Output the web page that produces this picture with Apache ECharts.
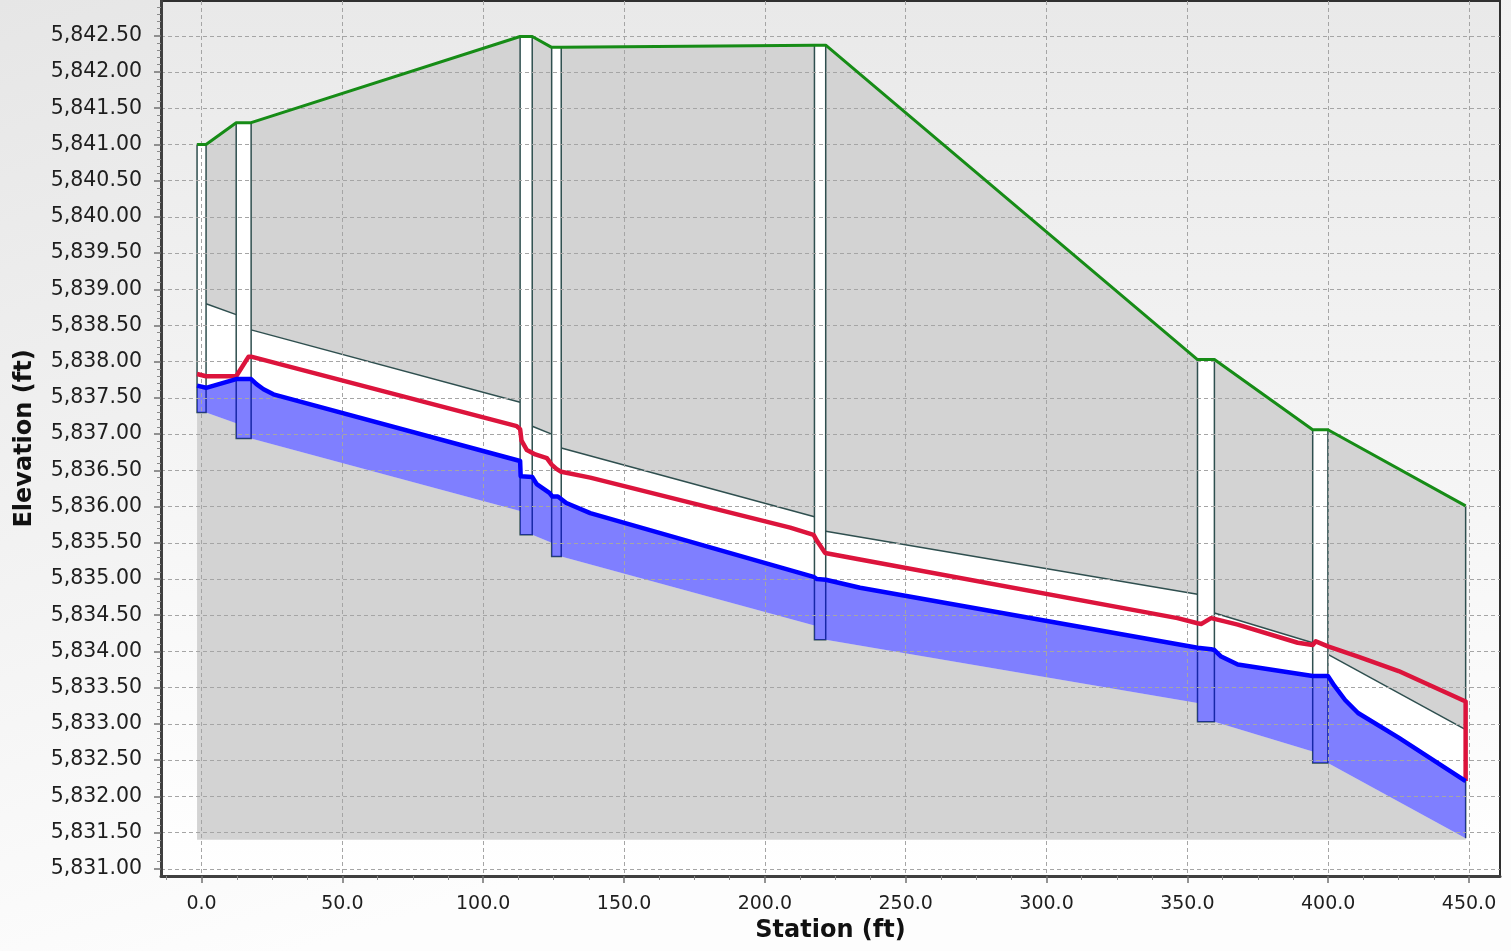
<!DOCTYPE html>
<html><head><meta charset="utf-8">
<script src="https://cdn.jsdelivr.net/npm/echarts@6/dist/echarts.min.js"></script>
<style>html,body{margin:0;padding:0;overflow:hidden;background:#fff}#c{width:1511px;height:951px}</style>
</head><body><div id="c"></div>
<script>
// ---- Structures (manholes): stations of walls (ft) and rim elevations (ft)
const mhLeft  = [-1.6, 12.3, 113.1, 124.3, 217.6, 353.6, 394.5];
const mhRight = [1.6, 17.6, 117.4, 127.7, 221.6, 359.6, 399.9];
const mhRim   = [5841.00, 5841.30, 5842.49, 5842.34, 5842.37, 5838.03, 5837.06];
const outletStation = 448.8;
const outletRim = 5836.01;
// ---- Pipes: one per manhole, running to the next structure
const pipeInvUp = [5837.30, 5836.94, 5835.61, 5835.31, 5834.16, 5833.03, 5832.46];
const pipeInvDn = [5837.15, 5835.94, 5835.50, 5834.36, 5833.29, 5832.62, 5831.42];
const pipeRise = 1.5;
const groundBase = 5831.4;
// ---- Hydraulic grade line (blue)
const hglStation = [-1.6, 1.6, 12.3, 17.6, 19.5, 22.0, 25.5, 113.1, 113.3, 117.4, 119.0, 123.5, 124.5, 126.5, 129.5, 138.0, 217.3, 218.5, 221.6, 233.8, 353.6, 358.4, 359.6, 362.0, 367.9, 394.5, 399.9, 402.3, 406.0, 410.6, 425.0, 448.8];
const hglElev    = [5837.67, 5837.64, 5837.76, 5837.76, 5837.69, 5837.62, 5837.55, 5836.63, 5836.42, 5836.41, 5836.31, 5836.19, 5836.14, 5836.14, 5836.05, 5835.91, 5835.03, 5835.00, 5834.99, 5834.88, 5834.05, 5834.03, 5834.02, 5833.93, 5833.82, 5833.66, 5833.66, 5833.52, 5833.33, 5833.15, 5832.81, 5832.21];
// ---- Energy grade line (red)
const eglStation = [-1.6, 1.6, 12.3, 16.7, 17.6, 111.9, 113.1, 113.6, 115.5, 118.5, 122.6, 124.3, 126.0, 127.7, 138.0, 209.0, 217.3, 218.6, 221.4, 233.8, 346.5, 353.6, 355.0, 358.4, 359.6, 367.9, 389.2, 394.5, 395.6, 399.9, 410.6, 425.0, 448.8, 448.8];
const eglElev    = [5837.83, 5837.80, 5837.80, 5838.07, 5838.07, 5837.11, 5837.07, 5836.91, 5836.78, 5836.72, 5836.67, 5836.58, 5836.52, 5836.48, 5836.40, 5835.71, 5835.61, 5835.52, 5835.36, 5835.27, 5834.46, 5834.39, 5834.38, 5834.46, 5834.45, 5834.37, 5834.12, 5834.09, 5834.14, 5834.07, 5833.93, 5833.73, 5833.31, 5832.21];
// ---- Axis ticks
const xTicks = [0, 50, 100, 150, 200, 250, 300, 350, 400, 450];
const yTicks = [5831.0, 5831.5, 5832.0, 5832.5, 5833.0, 5833.5, 5834.0, 5834.5, 5835.0, 5835.5, 5836.0, 5836.5, 5837.0, 5837.5, 5838.0, 5838.5, 5839.0, 5839.5, 5840.0, 5840.5, 5841.0, 5841.5, 5842.0, 5842.5];

// ---- derived geometry (data units only)
const pipeStart = mhRight.slice();
const pipeEnd = mhLeft.slice(1).concat([outletStation]);
const groundPts = [];
mhLeft.forEach((l, i) => { groundPts.push([l, mhRim[i]], [mhRight[i], mhRim[i]]); });
groundPts.push([outletStation, outletRim]);
const groundPoly = [[mhLeft[0], groundBase]].concat(groundPts, [[outletStation, groundBase]]);
const invertProfile = [];
mhLeft.forEach((l, i) => { invertProfile.push([l, pipeInvUp[i]], [mhRight[i], pipeInvUp[i]], [pipeEnd[i], pipeInvDn[i]]); });
const hglPts = hglStation.map((s, i) => [s, hglElev[i]]);
const eglPts = eglStation.map((s, i) => [s, eglElev[i]]);
const waterPoly = hglPts.concat(invertProfile.slice().reverse());
const pipeRows = pipeStart.map((s, i) => [s, pipeEnd[i], pipeInvUp[i], pipeInvDn[i]]);
const mhRows = mhLeft.map((l, i) => [l, mhRight[i], pipeInvUp[i], mhRim[i]]);

const fmtY = v => { const s = Number(v).toFixed(2); const p = s.split('.'); return p[0].replace(/\B(?=(\d{3})+(?!\d))/g, ',') + '.' + p[1]; };
const FONT = "'DejaVu Sans', Verdana, sans-serif";
const OUT = '#2f4f4f';

function polySeries(points, style, z) {
  return { type: 'custom', z: z, silent: true, clip: true, data: [points[0]],
    renderItem: (params, api) => ({ type: 'polygon', shape: { points: points.map(p => api.coord(p)) }, style: style }) };
}

const chart = echarts.init(document.getElementById('c'), null, { renderer: 'canvas' });
chart.setOption({
  animation: false,
  backgroundColor: new echarts.graphic.LinearGradient(0, 0, 0.2, 1, [{ offset: 0, color: '#e6e6e6' }, { offset: 1, color: '#fdfdfd' }]),
  grid: { left: 161, right: 11, top: 1, bottom: 75, show: true, outerBoundsMode: 'none',
    backgroundColor: new echarts.graphic.LinearGradient(0, 0, 0, 1, [{ offset: 0, color: '#e9e9e9' }, { offset: 1, color: '#ffffff' }]),
    borderColor: '#303030', borderWidth: 2 },
  xAxis: {
    type: 'value', min: -14.4, max: 461, minInterval: 50, maxInterval: 50, splitNumber: 10, z: 5,
    axisLine: { show: true, onZero: false, lineStyle: { color: '#404040', width: 3 } },
    axisTick: { show: true, length: 7, customValues: xTicks, lineStyle: { color: '#707070', width: 1.5 } },
    minorTick: { show: true, splitNumber: 4, length: 4, lineStyle: { color: '#8a8a8a', width: 1 } },
    axisLabel: { customValues: xTicks, showMinLabel: true, showMaxLabel: true, formatter: v => Number(v).toFixed(1),
      fontFamily: FONT, fontSize: 19, color: '#1e1e1e', margin: 19 },
    splitLine: { show: true, lineStyle: { color: '#a5a5a5', type: [4, 3], width: 1 } },
    name: 'Station (ft)', nameLocation: 'middle', nameGap: 43,
    nameTextStyle: { fontFamily: FONT, fontWeight: 'bold', fontSize: 24, color: '#111' }
  },
  yAxis: {
    type: 'value', min: 5830.9, max: 5842.98, minInterval: 0.5, maxInterval: 0.5, splitNumber: 24, z: 5,
    axisLine: { show: true, onZero: false, lineStyle: { color: '#404040', width: 3 } },
    axisTick: { show: true, length: 7, customValues: yTicks, lineStyle: { color: '#707070', width: 1.5 } },
    minorTick: { show: true, splitNumber: 5, length: 4, lineStyle: { color: '#8a8a8a', width: 1 } },
    axisLabel: { customValues: yTicks, showMinLabel: true, showMaxLabel: true, formatter: fmtY,
      fontFamily: FONT, fontSize: 20.5, color: '#1e1e1e', margin: 19 },
    splitLine: { show: true, lineStyle: { color: '#a5a5a5', type: [4, 3], width: 1 } },
    name: 'Elevation (ft)', nameLocation: 'middle', nameGap: 124,
    nameTextStyle: { fontFamily: FONT, fontWeight: 'bold', fontSize: 24, color: '#111' }
  },
  series: [
    polySeries(groundPoly, { fill: '#d3d3d3' }, 1),
    { type: 'custom', z: 2, silent: true, clip: true, data: pipeRows, encode: { x: [0, 1], y: [2, 3] },
      renderItem: (params, api) => {
        const s = api.value(0), e = api.value(1), iu = api.value(2), id = api.value(3);
        const p1 = api.coord([s, iu + pipeRise]), p2 = api.coord([e, id + pipeRise]), p3 = api.coord([e, id]), p4 = api.coord([s, iu]);
        return { type: 'group', children: [
          { type: 'polygon', shape: { points: [p1, p2, p3, p4] }, style: { fill: '#ffffff' } },
          { type: 'line', shape: { x1: p1[0], y1: p1[1], x2: p2[0], y2: p2[1] }, style: { stroke: OUT, lineWidth: 1.5 } }
        ] };
      } },
    { type: 'custom', z: 3, silent: true, clip: true, data: mhRows, encode: { x: [0, 1], y: [2, 3] },
      renderItem: (params, api) => {
        const a = api.coord([api.value(0), api.value(3)]), b = api.coord([api.value(1), api.value(2)]);
        return { type: 'rect', shape: { x: a[0], y: a[1], width: b[0] - a[0], height: b[1] - a[1] },
          style: { fill: '#ffffff', stroke: OUT, lineWidth: 1.5 } };
      } },
    { type: 'line', z: 3, silent: true, symbol: 'none', data: [[outletStation, outletRim], [outletStation, pipeInvDn[pipeInvDn.length - 1]]],
      lineStyle: { color: OUT, width: 1.5 } },
    polySeries(waterPoly, { fill: 'rgba(0,0,255,0.5)' }, 4),
    { type: 'line', name: 'Ground', z: 6, silent: true, symbol: 'none', data: groundPts, lineStyle: { color: '#168c16', width: 3 } },
    { type: 'line', name: 'EGL', z: 7, silent: true, symbol: 'none', data: eglPts, lineStyle: { color: '#dc143c', width: 4.5, join: 'round' } },
    { type: 'line', name: 'HGL', z: 7, silent: true, symbol: 'none', data: hglPts, lineStyle: { color: '#0000ff', width: 4.5, join: 'round' } }
  ]
});
</script></body></html>
